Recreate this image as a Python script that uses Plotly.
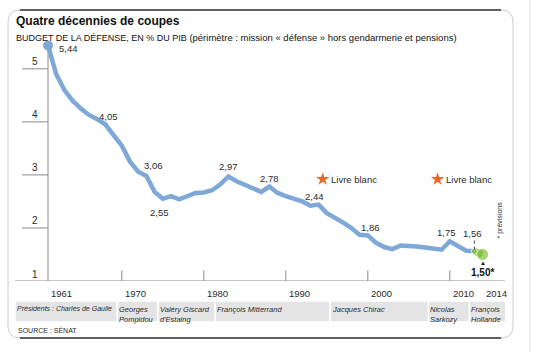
import plotly.graph_objects as go

# ---------------- data ----------------
years = list(range(1961, 2015))
values = [5.44, 4.90, 4.60, 4.40, 4.25, 4.13, 4.05, 3.95, 3.75, 3.55,
          3.25, 3.06, 2.98, 2.68, 2.55, 2.60, 2.54, 2.61, 2.66, 2.67,
          2.71, 2.82, 2.97, 2.88, 2.82, 2.76, 2.68, 2.78, 2.66, 2.60,
          2.55, 2.50, 2.42, 2.44, 2.28, 2.20, 2.10, 2.00, 1.87, 1.86,
          1.72, 1.64, 1.60, 1.67, 1.67, 1.65, 1.63, 1.61, 1.59, 1.75,
          1.66, 1.57, 1.56, 1.50]
forecast_years = [2013, 2014]

labeled_years = [1961, 1967, 1972, 1975, 1983, 1988, 1994, 2000, 2010, 2013, 2014]
label_texts = ["5,44", "4,05", "3,06", "2,55", "2,97", "2,78", "2,44", "1,86", "1,75", "1,56", "1,50*"]

y_ticks = [1, 2, 3, 4, 5]
x_tick_years = [1961, 1970, 1980, 1990, 2000, 2010, 2014]

presidents = ["Présidents : Charles de Gaulle", "Georges<br>Pompidou", "Valéry Giscard<br>d'Estaing",
              "François Mitterrand", "Jacques Chirac", "Nicolas<br>Sarkozy", "François<br>Hollande"]
president_starts = [1959.0, 1969.46, 1974.4, 1981.4, 1995.4, 2007.4, 2012.4]
president_end = 2017.1

livre_blanc_years = [1994, 2008]

# ---------------- styling / layout geometry ----------------
W, H = 541, 352
ML, MR, MT, MB = 15, 36, 37, 71
PW, PH = W - ML - MR, H - MT - MB
PPY = 8.2                        # pixels per year
X0 = 1961 - 33 / PPY
X1 = X0 + PW / PPY
Y0, Y1 = 1.0, 5.6

BLUE = "#7ea8d8"
GREEN = "#86c140"
ORANGE = "#e8692a"
TXT = "#2b2b2b"
FONT = "Liberation Sans, Arial, sans-serif"


def PX(px):
    return (px - ML) / PW


def PY(py):
    return (H - MB - py) / PH


val = dict(zip(years, values))

fig = go.Figure()

# main line (actual)
main_x = [y for y in years if y <= forecast_years[0]]
fig.add_trace(go.Scatter(x=main_x, y=[val[y] for y in main_x], mode="lines",
                         line=dict(color=BLUE, width=4.5), hoverinfo="skip"))
# forecast part
fig.add_trace(go.Scatter(x=forecast_years, y=[val[y] for y in forecast_years], mode="lines+markers",
                         line=dict(color=GREEN, width=7),
                         marker=dict(color=GREEN, size=[6, 12]), hoverinfo="skip"))
# start marker
fig.add_trace(go.Scatter(x=[years[0]], y=[values[0]], mode="markers",
                         marker=dict(color=BLUE, size=10), hoverinfo="skip", cliponaxis=False))
# livre blanc stars
fig.add_trace(go.Scatter(x=[y + 0.5 for y in livre_blanc_years], y=[2.92] * len(livre_blanc_years),
                         mode="markers", marker=dict(symbol="star", color=ORANGE, size=10),
                         hoverinfo="skip"))

shapes = []
ann = []

# card frame
L, R, T, B, r = 8, 513, 10, 338, 12
rx, ry = r / PW, r / PH
path = (f"M {PX(L)+rx} {PY(T)} L {PX(R)-rx} {PY(T)} Q {PX(R)} {PY(T)} {PX(R)} {PY(T)-ry} "
        f"L {PX(R)} {PY(B)+ry} Q {PX(R)} {PY(B)} {PX(R)-rx} {PY(B)} "
        f"L {PX(L)+rx} {PY(B)} Q {PX(L)} {PY(B)} {PX(L)} {PY(B)+ry} "
        f"L {PX(L)} {PY(T)-ry} Q {PX(L)} {PY(T)} {PX(L)+rx} {PY(T)} Z")
shapes.append(dict(type="path", xref="paper", yref="paper", path=path,
                   line=dict(color="#c9ced3", width=1), layer="below"))
shapes.append(dict(type="line", xref="paper", yref="paper", x0=PX(L + r), x1=PX(R - r),
                   y0=PY(T), y1=PY(T), line=dict(color="#333", width=1.5)))
shapes.append(dict(type="line", xref="paper", yref="paper", x0=PX(L + r), x1=PX(R - r),
                   y0=PY(B), y1=PY(B), line=dict(color="#333", width=1.5)))
# right separator (page)
shapes.append(dict(type="line", xref="paper", yref="paper", x0=PX(530), x1=PX(530),
                   y0=PY(0), y1=PY(H), line=dict(color="#e3e8ec", width=1)))

# axes
shapes.append(dict(type="line", xref="paper", yref="y", x0=0, x1=1, y0=1, y1=1,
                   line=dict(color="#8a8a8a", width=1)))
shapes.append(dict(type="line", xref="x", yref="y", x0=1961, x1=1961, y0=0.79, y1=values[0],
                   line=dict(color="#8a8a8a", width=1), layer="below"))
for v in y_ticks:
    if v > 1:
        shapes.append(dict(type="line", xref="x", yref="y", x0=1961 - 26 / PPY, x1=1961, y0=v, y1=v,
                           line=dict(color="#8a8a8a", width=1)))
    ann.append(dict(x=1961, y=v, xref="x", yref="y", text=str(v), showarrow=False,
                    xshift=-13, yshift=7, font=dict(family=FONT, size=10, color=TXT)))
for yr in x_tick_years:
    if yr != 1961:
        top = 1.0 if yr == x_tick_years[-1] else 1.2
        shapes.append(dict(type="line", xref="x", yref="y", x0=yr, x1=yr, y0=top, y1=0.68,
                           line=dict(color="#8a8a8a", width=1)))
    ann.append(dict(x=yr, y=PY(293), xref="x", yref="paper", text=str(yr), showarrow=False,
                    xanchor="left", yanchor="middle", xshift=1,
                    font=dict(family=FONT, size=9.5, color=TXT)))

# presidents band (first box extends to the left edge of the chart)
for i, name in enumerate(presidents):
    s = X0 if i == 0 else president_starts[i]
    e = president_starts[i + 1] if i + 1 < len(president_starts) else president_end
    shapes.append(dict(type="rect", xref="x", yref="paper", x0=s, x1=e, y0=PY(301), y1=PY(322),
                       fillcolor="#e4e4e4", line=dict(color="white", width=1.5), layer="below"))
    ann.append(dict(x=s, y=PY(302.5), xref="x", yref="paper", text=f"<i>{name}</i>", showarrow=False,
                    xanchor="left", yanchor="top", xshift=0, align="left",
                    font=dict(family=FONT, size=7 if i == 0 else 7.5, color=TXT)))

# value labels
offsets = {1961: (9, -3, "left"), 1967: (11, 3, "center"), 1972: (15, 6, "center"),
           1975: (-3, -14, "center"), 1983: (0, 10, "center"), 1988: (0, 8, "center"),
           1994: (-4, 8, "center"), 2000: (3, 8, "center"), 2010: (-3, 9, "center"),
           2013: (-2, 18, "center"), 2014: (0, -18, "center")}
for yr, t in zip(labeled_years, label_texts):
    dx, dy, xa = offsets[yr]
    bold = yr == 2014
    ann.append(dict(x=yr, y=val[yr], xref="x", yref="y", text=f"<b>{t}</b>" if bold else t,
                    showarrow=False, xshift=dx, yshift=dy, xanchor=xa,
                    font=dict(family=FONT, size=10 if bold else 9.5, color="#111" if bold else TXT)))

# dotted leader for 1,56 and triangle for 1,50
shapes.append(dict(type="line", xref="x", yref="y", x0=2013, x1=2013, y0=val[2013] + 0.03,
                   y1=val[2013] + 0.21, line=dict(color="#444", width=1, dash="dot")))
ann.append(dict(x=2014, y=val[2014], xref="x", yref="y", text="▲", showarrow=False, yshift=-9,
                font=dict(size=6, color="#111")))
ann.append(dict(x=PX(505), y=PY(241), xref="paper", yref="paper", text="* prévisions",
                showarrow=False, textangle=-90, font=dict(family=FONT, size=7, color=TXT)))

# livre blanc labels
for yr in livre_blanc_years:
    ann.append(dict(x=yr + 0.5, y=2.92, xref="x", yref="y", text="Livre blanc", showarrow=False,
                    xanchor="left", xshift=6, font=dict(family=FONT, size=9.5, color=TXT)))

# titles and source
ann.append(dict(x=PX(14), y=PY(21), xref="paper", yref="paper", text="<b>Quatre décennies de coupes</b>",
                showarrow=False, xanchor="left", yanchor="middle",
                font=dict(family=FONT, size=12, color="#111")))
ann.append(dict(x=PX(14), y=PY(37), xref="paper", yref="paper",
                text="BUDGET DE LA DÉFENSE, EN % DU PIB <span style='font-size:9.5px'>(périmètre : mission « défense » hors gendarmerie et pensions)</span>",
                showarrow=False, xanchor="left", yanchor="middle",
                font=dict(family=FONT, size=9, color="#111")))
ann.append(dict(x=PX(16), y=PY(330), xref="paper", yref="paper", text="SOURCE : SÉNAT",
                showarrow=False, xanchor="left", yanchor="middle",
                font=dict(family=FONT, size=7, color=TXT)))

fig.update_layout(
    width=W, height=H, margin=dict(l=ML, r=MR, t=MT, b=MB),
    paper_bgcolor="white", plot_bgcolor="white", showlegend=False,
    xaxis=dict(range=[X0, X1], visible=False, fixedrange=True),
    yaxis=dict(range=[Y0, Y1], visible=False, fixedrange=True),
    shapes=shapes, annotations=ann,
)

fig.write_html("out.html")
